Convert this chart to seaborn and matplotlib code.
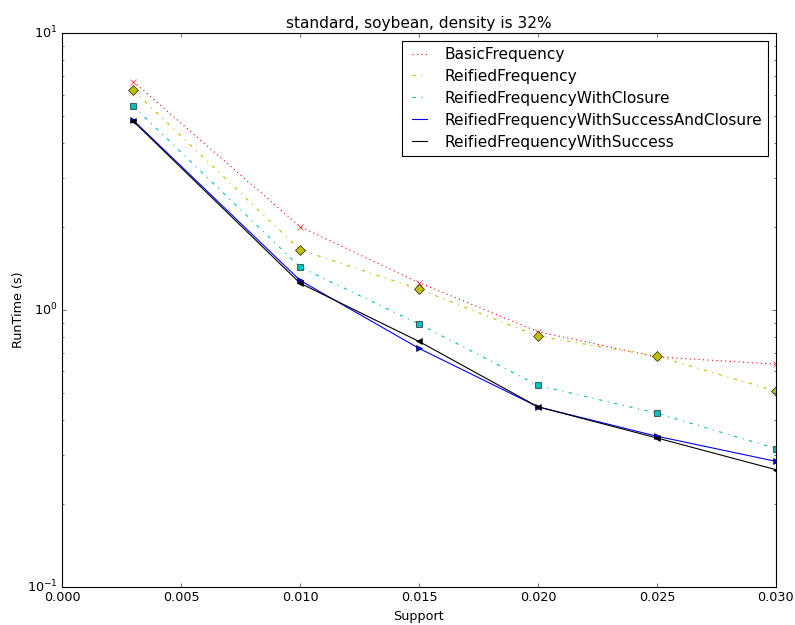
import matplotlib
matplotlib.use("Agg")
import matplotlib.pyplot as plt
import seaborn as sns
import numpy as np

support = [0.003, 0.010, 0.015, 0.020, 0.025, 0.030]
basic_freq = [6.68, 2.00, 1.256, 0.835, 0.677, 0.637]
reified_freq = [6.21, 1.65, 1.19, 0.805, 0.68, 0.51]
reified_closure = [5.44, 1.43, 0.89, 0.534, 0.424, 0.316]
reified_success_closure = [4.84, 1.28, 0.727, 0.447, 0.35, 0.284]
reified_success = [4.80, 1.25, 0.77, 0.447, 0.345, 0.265]

series = [
    ("BasicFrequency", basic_freq, "r", ":", "x"),
    ("ReifiedFrequency", reified_freq, "y", "-.", "D"),
    ("ReifiedFrequencyWithClosure", reified_closure, "c", "-.", "s"),
    ("ReifiedFrequencyWithSuccessAndClosure", reified_success_closure, "b", "-", ">"),
    ("ReifiedFrequencyWithSuccess", reified_success, "k", "-", "<"),
]

plt.style.use("classic")
plt.rcParams["xtick.labelsize"] = 11.5
plt.rcParams["ytick.labelsize"] = 11.5
plt.rcParams["axes.labelsize"] = 11.5

fig, ax = plt.subplots(figsize=(795 / 80, 625 / 80), dpi=80)
fig.subplots_adjust(left=0.078, right=0.976, bottom=0.061, top=0.947)

for name, vals, color, ls, mk in series:
    sns.lineplot(x=support, y=vals, ax=ax, color=color, linestyle=ls,
                 label=name, sort=False, linewidth=1)
    ax.plot(support, vals, color=color, marker=mk, linestyle="none",
            markersize=6)

ax.set_yscale("log")
ax.set_xlim(0.0, 0.03)
ax.set_ylim(0.1, 10)
ax.set_xlabel("Support")
ax.set_ylabel("RunTime (s)", labelpad=2)
ax.set_title("standard, soybean, density is 32%", fontsize=13.8)
ax.legend(loc="upper right", fontsize=13.8, handlelength=1.55,
          handletextpad=0.85, labelspacing=0.45)

fig.savefig("out.png", dpi=80, facecolor="white")
plt.close()
